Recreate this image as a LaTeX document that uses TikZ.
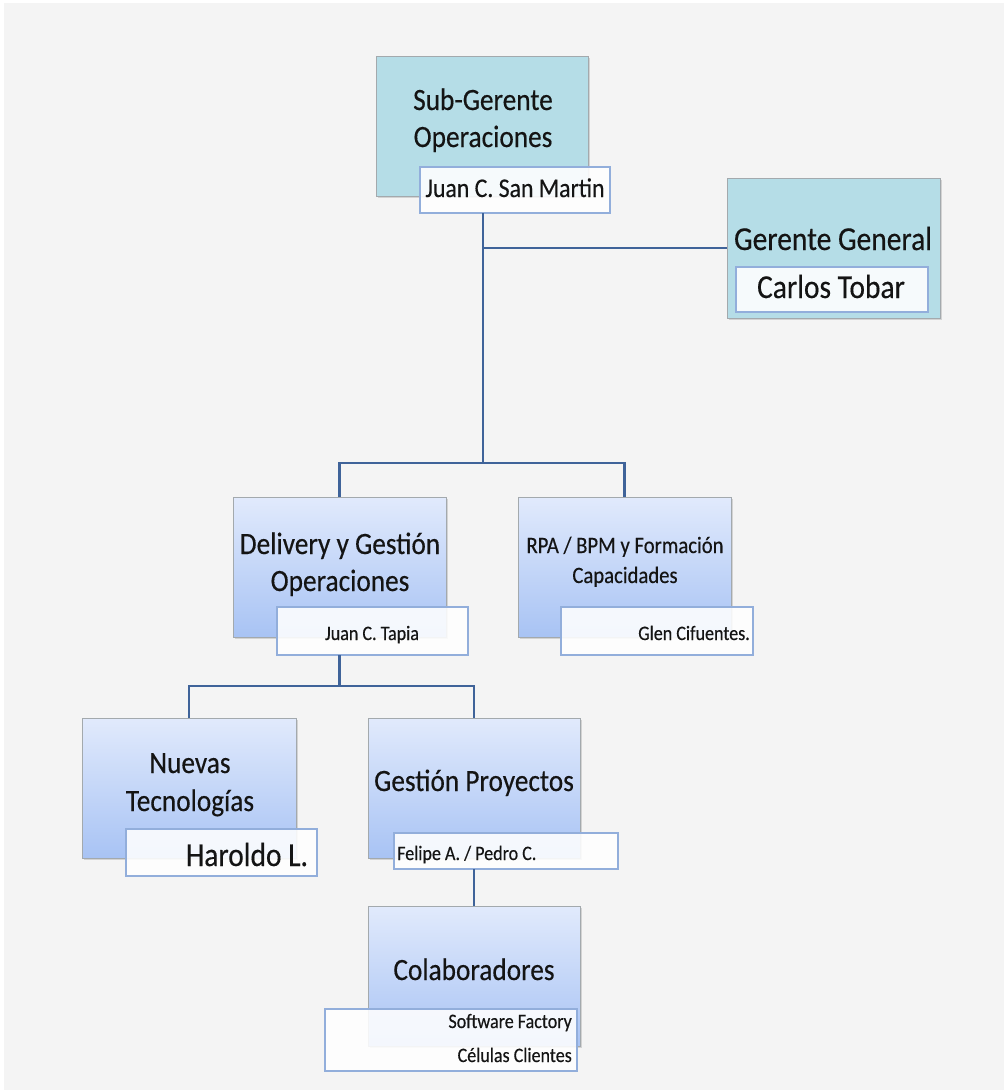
\documentclass[tikz,border=0pt]{standalone}
\usepackage{fontspec}
\setmainfont{Carlito}[FakeStretch=0.88, FakeBold=0.35]
\usetikzlibrary{shadows}
\definecolor{pagebg}{HTML}{F4F4F4}
\definecolor{tealfill}{HTML}{B5DDE7}
\definecolor{boxedge}{HTML}{A3A9AD}
\definecolor{gradtop}{HTML}{E1EAFC}
\definecolor{gradbot}{HTML}{A8C3F4}
\definecolor{tagedge}{HTML}{92AEDB}
\definecolor{linkcol}{HTML}{3F6399}
\definecolor{inkcol}{HTML}{141414}
\begin{document}
\begin{tikzpicture}[x=1pt, y=-1pt,
  unitbox/.style={rectangle, inner sep=0pt, outer sep=0pt, draw=boxedge, line width=0.8pt,
    drop shadow={shadow xshift=1.8pt, shadow yshift=-2.2pt, opacity=0.28}},
  headbox/.style={unitbox, fill=tealfill},
  deptbox/.style={unitbox, top color=gradtop, bottom color=gradbot},
  tagbox/.style={rectangle, inner sep=0pt, outer sep=0pt, draw=tagedge, line width=1.1pt,
    fill=white, fill opacity=0.88},
  link/.style={draw=linkcol, line width=2.9pt},
  txt/.style={inner sep=0pt, text=inkcol, anchor=base},
  txtE/.style={txt, anchor=base east},
  txtW/.style={txt, anchor=base west},
  big/.style={font=\fontsize{31}{37}\selectfont},
  huge/.style={font=\fontsize{33.5}{40}\selectfont},
  mid/.style={font=\fontsize{27}{32}\selectfont},
  rpa/.style={font=\fontsize{23.5}{28}\selectfont},
  small/.style={font=\fontsize{20.5}{24}\selectfont}]
\useasboundingbox (0,0) rectangle (1004,1090);
\fill[white] (0,0) rectangle (1004,1090);
\fill[pagebg] (4,3) rectangle (1004,1090);

% --- boxes ---
\node[headbox, minimum width=212pt, minimum height=140pt] (subg) at (482,126) {};
\node[tagbox, minimum width=190pt, minimum height=46pt] (smtag) at (515,190) {};
\node[headbox, minimum width=213pt, minimum height=140pt] (gg) at (833.5,248) {};
\node[tagbox, minimum width=192pt, minimum height=45pt] (cttag) at (832,289.5) {};

\node[deptbox, minimum width=213pt, minimum height=140pt] (dlv) at (339.5,567) {};
\node[tagbox, minimum width=191pt, minimum height=48pt] (taptag) at (372.5,631) {};
\node[deptbox, minimum width=213pt, minimum height=140pt] (rpa) at (624.5,567) {};
\node[tagbox, minimum width=192pt, minimum height=48pt] (glentag) at (657,631) {};

\node[deptbox, minimum width=214pt, minimum height=140pt] (nt) at (189,788) {};
\node[tagbox, minimum width=191pt, minimum height=47pt] (hartag) at (221.5,852.5) {};
\node[deptbox, minimum width=212pt, minimum height=140pt] (gp) at (474,788) {};
\node[tagbox, minimum width=224pt, minimum height=36pt] (feltag) at (506,851) {};

\node[deptbox, minimum width=212pt, minimum height=140pt] (col) at (474,976) {};
\node[tagbox, minimum width=252pt, minimum height=62pt] (coltag) at (451,1040) {};

% --- texts ---
\node[txt, big] (t1a) at (483,110) {Sub-Gerente};
\node[txt, big] (t1b) at (483,147) {Operaciones};
\node[txt, mid] (t1c) at (515,197) {Juan C. San Martin};
\node[txt, huge] (t2a) at (833,250) {Gerente General};
\node[txt, huge] (t2b) at (831,298) {Carlos Tobar};

\node[txt, big] (t3a) at (340,554) {Delivery y Gestión};
\node[txt, big] (t3b) at (340,591) {Operaciones};
\node[txt, small] (t3c) at (372,640) {Juan C. Tapia};
\node[txt, rpa] (t4a) at (625,553) {RPA / BPM y Formación};
\node[txt, rpa] (t4b) at (625,583) {Capacidades};
\node[txtE, small] (t4c) at (750,640) {Glen Cifuentes.};

\node[txt, big] (t5a) at (190,773) {Nuevas};
\node[txt, big] (t5b) at (190,811) {Tecnologías};
\node[txt, huge] (t5c) at (247,866) {Haroldo L.};
\node[txt, big] (t6a) at (474,791) {Gestión Proyectos};
\node[txtW, small] (t6b) at (397,860) {Felipe A. / Pedro C.};

\node[txt, big] (t7a) at (474,980) {Colaboradores};
\node[txtE, small] (t7b) at (572,1028) {Software Factory};
\node[txtE, small] (t7c) at (572,1062) {Células Clientes};

% --- connectors ---
\coordinate (hub) at (483,248);
\coordinate (split1) at (483,463);
\coordinate (split2) at (339.5,686);
\draw[link] (smtag.south -| hub) -- (split1);
\draw[link] (hub) -- (gg.west);
\draw[link] (dlv.north) |- (split1) -| (rpa.north);
\draw[link] (taptag.south -| dlv.south) -- (split2);
\draw[link] (nt.north) |- (split2) -| (gp.north);
\draw[link] (feltag.south -| gp.south) -- (col.north);
\end{tikzpicture}
\end{document}
